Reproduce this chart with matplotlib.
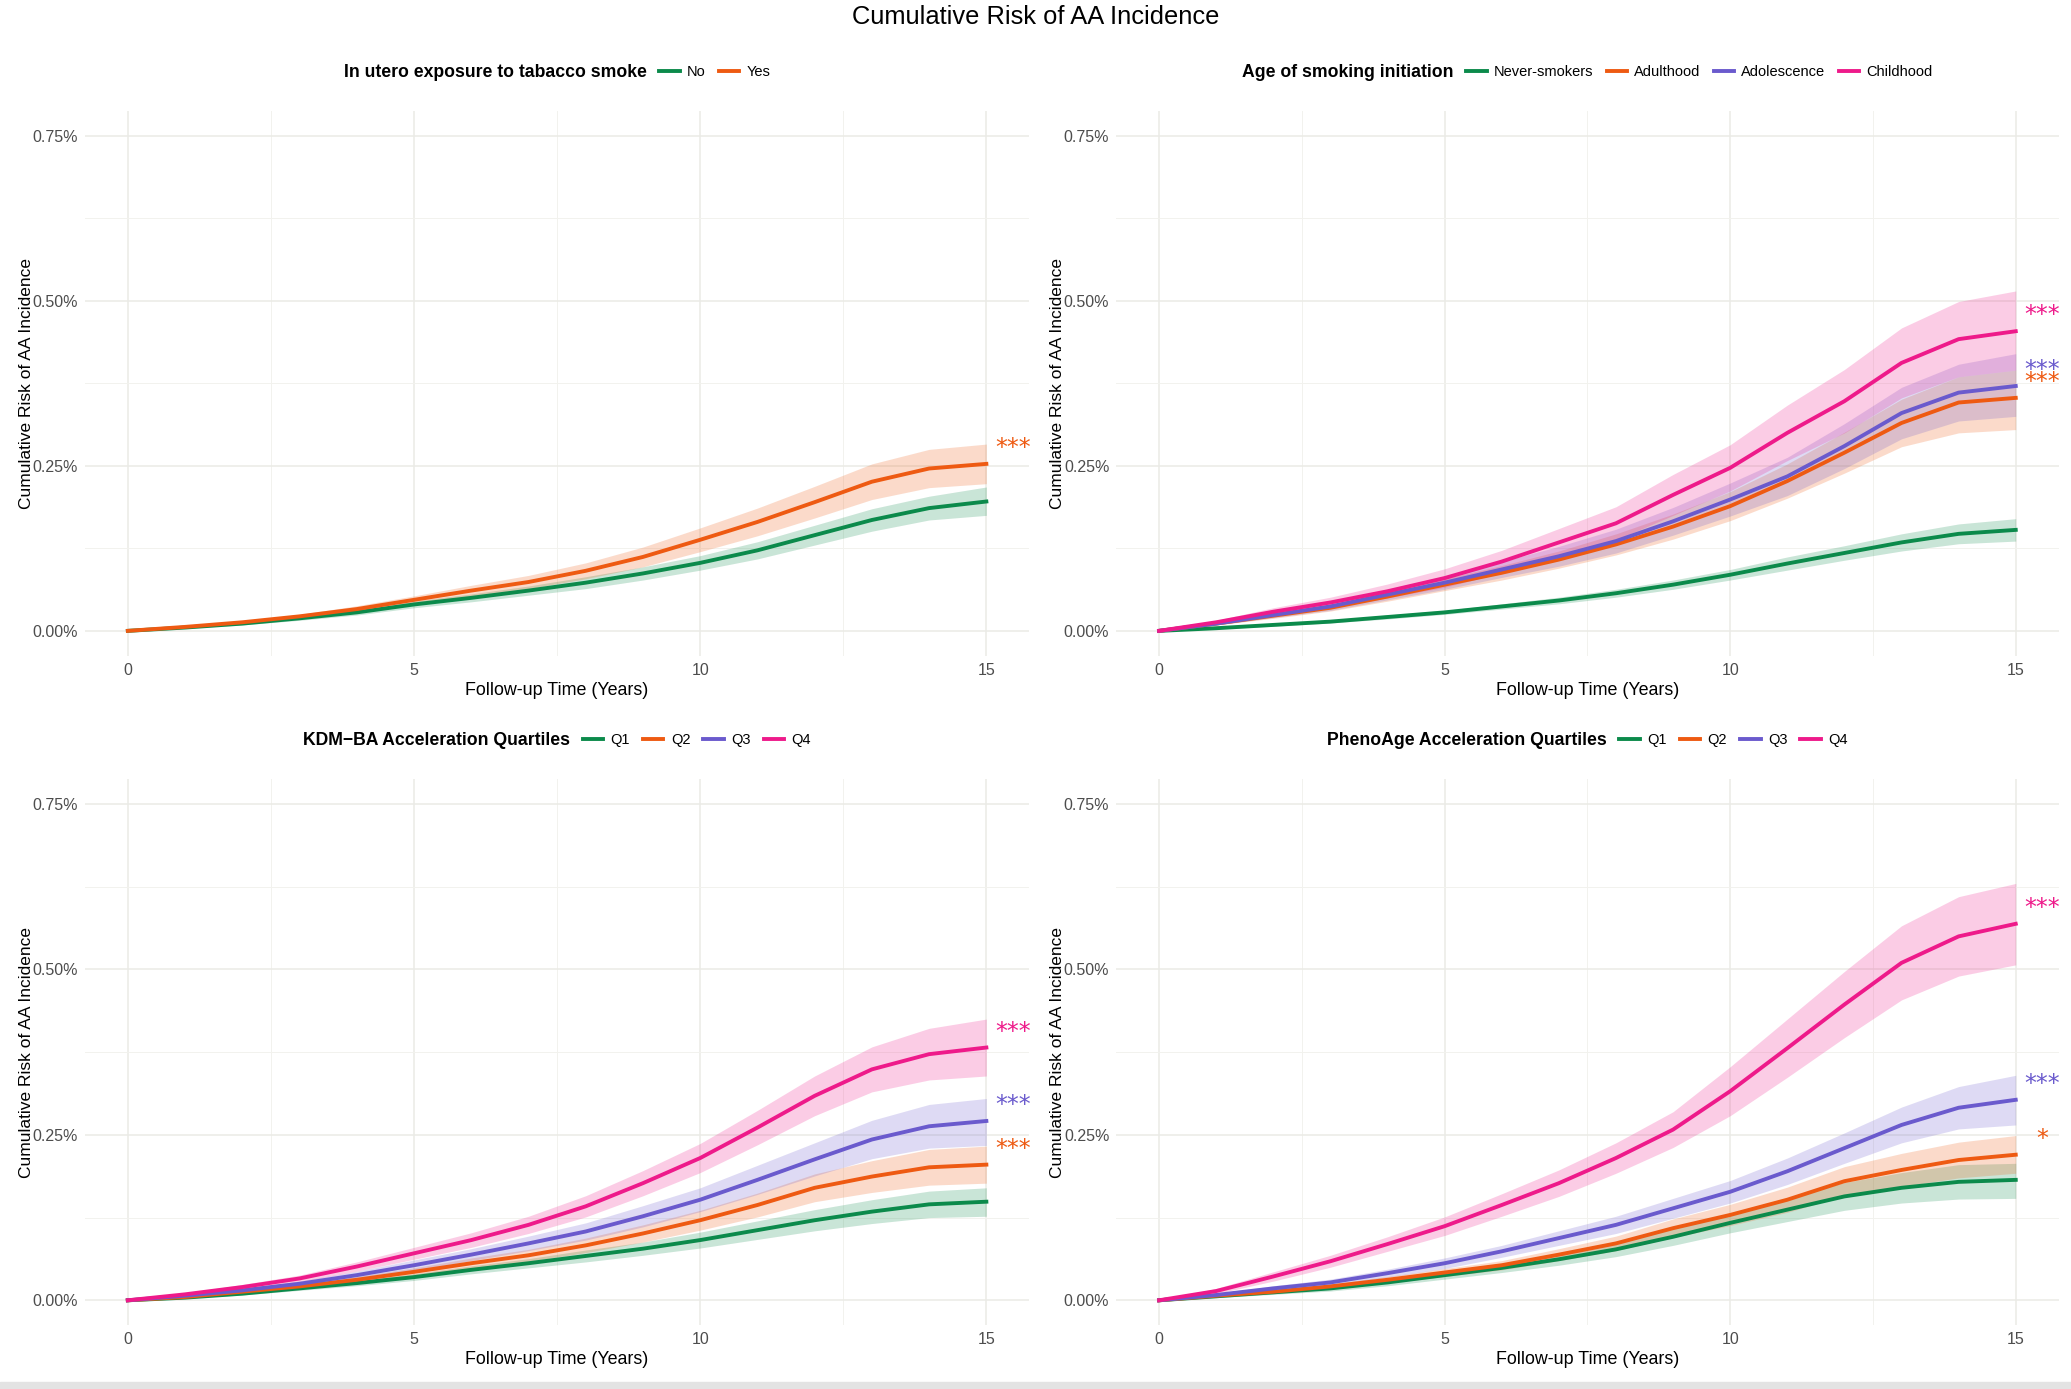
import matplotlib

matplotlib.use("Agg")
import matplotlib.pyplot as plt
from matplotlib.offsetbox import HPacker
from matplotlib.patches import Rectangle
from matplotlib.ticker import FixedLocator, FuncFormatter

plt.rcParams["font.family"] = ["Liberation Sans", "DejaVu Sans"]

YEARS = list(range(16))

# In utero exposure (values in %)
utero_labels = ["No", "Yes"]
utero_no = [0, .005, .011, .019, .028, .040, .050, .061, .073, .087, .103, .122, .145, .168, .186, .196]
utero_no_lo = [0, .004, .009, .016, .024, .035, .044, .054, .064, .077, .092, .109, .130, .151, .168, .175]
utero_no_hi = [0, .006, .013, .022, .032, .045, .056, .068, .082, .097, .114, .135, .160, .185, .204, .218]
utero_yes = [0, .006, .013, .022, .033, .047, .061, .074, .091, .112, .138, .165, .195, .226, .246, .253]
utero_yes_lo = [0, .005, .011, .019, .028, .041, .053, .064, .079, .097, .120, .144, .171, .199, .217, .223]
utero_yes_hi = [0, .007, .015, .025, .038, .053, .069, .084, .103, .127, .156, .186, .219, .253, .275, .283]
utero_stars = ["", "***"]

# Age of smoking initiation
smoke_labels = ["Never-smokers", "Adulthood", "Adolescence", "Childhood"]
never = [0, .004, .009, .014, .021, .028, .037, .046, .057, .070, .085, .102, .118, .134, .147, .153]
never_lo = [0, .003, .007, .012, .018, .025, .033, .041, .051, .063, .077, .092, .107, .121, .132, .136]
never_hi = [0, .005, .011, .016, .024, .031, .041, .051, .063, .077, .093, .112, .129, .147, .162, .170]
adult = [0, .011, .023, .035, .052, .070, .088, .108, .131, .158, .189, .227, .270, .315, .346, .353]
adult_lo = [0, .009, .019, .030, .045, .061, .077, .095, .115, .139, .167, .201, .239, .279, .300, .305]
adult_hi = [0, .013, .027, .040, .059, .079, .099, .121, .147, .177, .211, .253, .301, .351, .385, .395]
adolesc = [0, .011, .024, .037, .055, .073, .093, .113, .136, .166, .199, .234, .280, .330, .361, .371]
adolesc_lo = [0, .009, .020, .031, .047, .063, .081, .098, .118, .145, .174, .205, .246, .291, .318, .325]
adolesc_hi = [0, .013, .028, .043, .063, .083, .105, .128, .154, .187, .224, .263, .314, .369, .404, .420]
child = [0, .013, .029, .043, .060, .080, .105, .134, .163, .206, .247, .300, .348, .406, .442, .454]
child_lo = [0, .010, .023, .035, .050, .066, .088, .113, .138, .175, .212, .258, .300, .353, .385, .395]
child_hi = [0, .016, .035, .051, .071, .094, .122, .155, .188, .237, .282, .342, .396, .459, .499, .515]
smoke_stars = ["", "***", "***", "***"]

# KDM-BA acceleration quartiles
quart_labels = ["Q1", "Q2", "Q3", "Q4"]
kdm_q1 = [0, .004, .010, .018, .026, .035, .046, .056, .067, .078, .091, .106, .121, .134, .145, .149]
kdm_q1_lo = [0, .003, .008, .015, .022, .030, .040, .049, .058, .068, .079, .092, .105, .116, .125, .127]
kdm_q1_hi = [0, .005, .012, .021, .030, .040, .052, .063, .076, .088, .103, .120, .137, .152, .165, .170]
kdm_q2 = [0, .005, .013, .021, .031, .043, .056, .068, .083, .101, .121, .144, .170, .187, .201, .205]
kdm_q2_lo = [0, .004, .010, .017, .026, .037, .048, .059, .072, .088, .106, .126, .149, .163, .174, .177]
kdm_q2_hi = [0, .006, .016, .025, .036, .049, .064, .077, .094, .114, .136, .162, .191, .211, .228, .233]
kdm_q3 = [0, .007, .015, .025, .038, .053, .069, .086, .104, .127, .152, .182, .213, .243, .263, .271]
kdm_q3_lo = [0, .005, .012, .021, .032, .045, .060, .075, .091, .111, .134, .160, .188, .214, .230, .234]
kdm_q3_hi = [0, .009, .018, .029, .044, .061, .078, .097, .117, .143, .170, .204, .238, .272, .296, .305]
kdm_q4 = [0, .009, .020, .033, .051, .071, .091, .114, .142, .177, .215, .261, .309, .349, .372, .382]
kdm_q4_lo = [0, .007, .016, .028, .044, .062, .080, .101, .126, .158, .193, .235, .279, .315, .333, .339]
kdm_q4_hi = [0, .011, .024, .038, .058, .080, .102, .127, .158, .196, .237, .287, .339, .383, .411, .425]
kdm_stars = ["", "***", "***", "***"]

# PhenoAge acceleration quartiles
pheno_q1 = [0, .006, .012, .018, .027, .038, .049, .062, .077, .096, .117, .137, .157, .170, .179, .182]
pheno_q1_lo = [0, .004, .009, .014, .022, .032, .042, .053, .066, .083, .102, .119, .136, .147, .153, .154]
pheno_q1_hi = [0, .008, .015, .022, .032, .044, .056, .071, .088, .109, .132, .155, .178, .193, .205, .207]
pheno_q2 = [0, .007, .013, .021, .031, .042, .053, .069, .086, .109, .129, .152, .180, .197, .212, .220]
pheno_q2_lo = [0, .005, .010, .017, .026, .036, .046, .060, .075, .095, .113, .133, .158, .172, .185, .192]
pheno_q2_hi = [0, .009, .016, .025, .036, .048, .060, .078, .097, .123, .145, .171, .202, .222, .239, .249]
pheno_q3 = [0, .008, .018, .027, .041, .056, .074, .094, .114, .139, .164, .195, .230, .265, .291, .303]
pheno_q3_lo = [0, .006, .014, .022, .035, .048, .065, .083, .101, .124, .147, .175, .207, .238, .259, .265]
pheno_q3_hi = [0, .010, .022, .032, .047, .064, .083, .105, .127, .154, .181, .215, .253, .292, .323, .340]
pheno_q4 = [0, .014, .036, .059, .085, .112, .144, .177, .215, .258, .316, .381, .447, .510, .550, .569]
pheno_q4_lo = [0, .010, .029, .050, .074, .098, .127, .157, .192, .231, .279, .337, .397, .454, .490, .507]
pheno_q4_hi = [0, .018, .043, .068, .096, .126, .161, .197, .238, .285, .353, .425, .497, .566, .610, .630]
pheno_stars = ["", "*", "***", "***"]

GREEN = "#0B8A4B"
ORANGE = "#EE5A12"
PURPLE = "#6A5ACD"
PINK = "#EE1A8A"
COLORS = [GREEN, ORANGE, PURPLE, PINK]

PANELS = [
    ("In utero exposure to tabacco smoke", utero_labels,
     [(utero_no, utero_no_lo, utero_no_hi), (utero_yes, utero_yes_lo, utero_yes_hi)], utero_stars),
    ("Age of smoking initiation", smoke_labels,
     [(never, never_lo, never_hi), (adult, adult_lo, adult_hi),
      (adolesc, adolesc_lo, adolesc_hi), (child, child_lo, child_hi)], smoke_stars),
    ("KDM\u2212BA Acceleration Quartiles", quart_labels,
     [(kdm_q1, kdm_q1_lo, kdm_q1_hi), (kdm_q2, kdm_q2_lo, kdm_q2_hi),
      (kdm_q3, kdm_q3_lo, kdm_q3_hi), (kdm_q4, kdm_q4_lo, kdm_q4_hi)], kdm_stars),
    ("PhenoAge Acceleration Quartiles", quart_labels,
     [(pheno_q1, pheno_q1_lo, pheno_q1_hi), (pheno_q2, pheno_q2_lo, pheno_q2_hi),
      (pheno_q3, pheno_q3_lo, pheno_q3_hi), (pheno_q4, pheno_q4_lo, pheno_q4_hi)], pheno_stars),
]

AXES_RECTS = [
    [0.041, 0.528, 0.456, 0.392],
    [0.539, 0.528, 0.455, 0.392],
    [0.041, 0.046, 0.456, 0.393],
    [0.539, 0.046, 0.455, 0.393],
]


def inline_legend(ax, handles, title):
    leg = ax.legend(handles=handles, title=title, ncol=len(handles), loc="center",
                    bbox_to_anchor=(0.5, 1.071), frameon=False, fontsize=10.5,
                    title_fontproperties={"weight": "bold", "size": 12.7},
                    handlelength=1.4, handletextpad=0.5, columnspacing=0.9, borderpad=0)
    # put the legend title on the left of the keys, like ggplot does
    box = HPacker(pad=0, sep=9, align="center",
                  children=[leg._legend_title_box, leg._legend_handle_box])
    box.set_figure(ax.figure)
    box.axes = ax
    box.set_offset(leg._findoffset)
    leg._legend_box = box
    return leg


def draw_panel(ax, title, labels, series, stars):
    for (est, lo, hi), c in zip(series, COLORS):
        ax.fill_between(YEARS, lo, hi, color=c, alpha=0.22, lw=0)
    handles = []
    for (est, _, _), c, lab in zip(series, COLORS, labels):
        ln, = ax.plot(YEARS, est, color=c, lw=2.8, label=lab, solid_joinstyle="round")
        handles.append(ln)
    for (est, _, _), c, s in zip(series, COLORS, stars):
        if s:
            ax.text(15.47, est[-1] + 0.024, s, color=c, ha="center", va="center",
                    fontsize=17, family="DejaVu Sans", clip_on=False)

    ax.set_facecolor("none")
    for sp in ax.spines.values():
        sp.set_visible(False)
    ax.set_xlim(-0.75, 15.75)
    ax.set_ylim(-0.0375, 0.7875)
    ax.xaxis.set_major_locator(FixedLocator([0, 5, 10, 15]))
    ax.xaxis.set_minor_locator(FixedLocator([2.5, 7.5, 12.5]))
    ax.yaxis.set_major_locator(FixedLocator([0, 0.25, 0.5, 0.75]))
    ax.yaxis.set_minor_locator(FixedLocator([0.125, 0.375, 0.625]))
    ax.yaxis.set_major_formatter(FuncFormatter(lambda v, _: f"{v:.2f}%"))
    ax.grid(which="major", color="#EBEBE6", lw=1.1)
    ax.grid(which="minor", color="#F2F2EE", lw=0.7)
    ax.set_axisbelow(True)
    ax.tick_params(which="both", length=0, labelsize=11.5, labelcolor="#4D4D4D")
    ax.tick_params(axis="x", pad=5)
    ax.tick_params(axis="y", pad=5)
    ax.set_xlabel("Follow-up Time (Years)", fontsize=12.9, labelpad=3)
    ax.set_ylabel("Cumulative Risk of AA Incidence", fontsize=12.5)
    ax.yaxis.set_label_coords(-0.054, 0.5)

    inline_legend(ax, handles, title)


def main() -> None:
    fig = plt.figure(figsize=(20.71, 13.89), dpi=100, facecolor="white")
    for rect, (title, labels, series, stars) in zip(AXES_RECTS, PANELS):
        ax = fig.add_axes(rect)
        draw_panel(ax, title, labels, series, stars)

    fig.text(0.5, 0.988, "Cumulative Risk of AA Incidence", ha="center", va="center", fontsize=18.4)
    fig.patches.append(Rectangle((0, 0), 1, 0.005, transform=fig.transFigure,
                                 color="#E3E3E3", zorder=0))
    fig.savefig("out.png", dpi=100, facecolor="white")
    plt.close(fig)


if __name__ == "__main__":
    main()
